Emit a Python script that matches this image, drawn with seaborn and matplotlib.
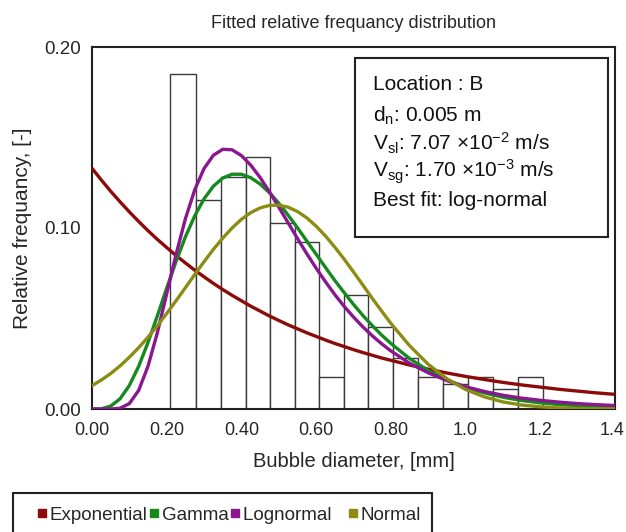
import numpy as np
import pandas as pd
import matplotlib
matplotlib.use("Agg")
import matplotlib.pyplot as plt
import matplotlib.transforms as mtransforms
import seaborn as sns
from matplotlib.patches import Rectangle
from matplotlib.lines import Line2D

# ---------------- data ----------------
bin_edges = [0.209, 0.279, 0.345, 0.413, 0.477, 0.543, 0.608, 0.675,
             0.740, 0.806, 0.873, 0.940, 1.007, 1.074, 1.141, 1.207]
bar_heights = [0.185, 0.1155, 0.128, 0.139, 0.103, 0.0924, 0.0175, 0.063,
               0.0455, 0.028, 0.0175, 0.014, 0.0175, 0.011, 0.0175]

diam = [0.000, 0.025, 0.050, 0.075, 0.100, 0.125, 0.150, 0.175, 0.200, 0.225,
        0.250, 0.275, 0.300, 0.325, 0.350, 0.375, 0.400, 0.425, 0.450, 0.475,
        0.500, 0.525, 0.550, 0.575, 0.600, 0.625, 0.650, 0.675, 0.700, 0.725,
        0.750, 0.775, 0.800, 0.85, 0.90, 0.95, 1.00, 1.05, 1.10, 1.15,
        1.20, 1.25, 1.30, 1.35, 1.40]
exponential = [0.1330, 0.1265, 0.1203, 0.1145, 0.1089, 0.1036, 0.0985, 0.0937, 0.0892, 0.0848,
               0.0807, 0.0767, 0.0730, 0.0694, 0.0660, 0.0628, 0.0598, 0.0568, 0.0541, 0.0514,
               0.0489, 0.0465, 0.0443, 0.0421, 0.0401, 0.0381, 0.0362, 0.0345, 0.0328, 0.0312,
               0.0297, 0.0282, 0.0269, 0.0243, 0.0220, 0.0199, 0.0180, 0.0163, 0.0147, 0.0133,
               0.0121, 0.0109, 0.0099, 0.0089, 0.0081]
gamma = [0.0, 0.0001, 0.0016, 0.0056, 0.0130, 0.0236, 0.0368, 0.0515, 0.0668, 0.0815,
         0.0951, 0.1067, 0.1161, 0.1231, 0.1276, 0.1297, 0.1297, 0.1278, 0.1243, 0.1195,
         0.1137, 0.1071, 0.1001, 0.0928, 0.0855, 0.0782, 0.0710, 0.0643, 0.0578, 0.0517,
         0.0461, 0.0409, 0.0362, 0.0279, 0.0213, 0.0161, 0.0120, 0.0089, 0.0065, 0.0047,
         0.0034, 0.0025, 0.0018, 0.0012, 0.0009]
lognormal = [0.0, 0.0, 0.0000, 0.0004, 0.0030, 0.0103, 0.0237, 0.0422, 0.0637, 0.0854,
             0.1051, 0.1211, 0.1329, 0.1402, 0.1435, 0.1432, 0.1400, 0.1347, 0.1279, 0.1200,
             0.1115, 0.1029, 0.0942, 0.0858, 0.0778, 0.0703, 0.0632, 0.0567, 0.0508, 0.0454,
             0.0405, 0.0361, 0.0321, 0.0253, 0.0200, 0.0157, 0.0123, 0.0097, 0.0076, 0.0060,
             0.0048, 0.0038, 0.0030, 0.0024, 0.0019]
normal = [0.0129, 0.0160, 0.0196, 0.0238, 0.0286, 0.0339, 0.0397, 0.0460, 0.0528, 0.0598,
          0.0670, 0.0743, 0.0814, 0.0882, 0.0944, 0.1000, 0.1048, 0.1085, 0.1111, 0.1125,
          0.1126, 0.1115, 0.1091, 0.1056, 0.1010, 0.0956, 0.0894, 0.0828, 0.0757, 0.0685,
          0.0612, 0.0542, 0.0473, 0.0350, 0.0247, 0.0167, 0.0108, 0.0067, 0.0039, 0.0022,
          0.0012, 0.0006, 0.0003, 0.0001, 0.0001]

dist_names = ["Exponential", "Gamma", "Lognormal", "Normal"]
legend_labels = ["Exponential", "Gamma", "Lognormal\u00a0\u00a0\u00a0", "Normal"]
dist_colors = ["#8c0a0a", "#14891e", "#8a1690", "#8c8c14"]

x_ticks = [0.0, 0.2, 0.4, 0.6, 0.8, 1.0, 1.2, 1.4]
x_ticklabels = ["0.00", "0.20", "0.40", "0.60", "0.80", "1.0", "1.2", "1.4"]
y_ticks = [0.0, 0.05, 0.10, 0.15, 0.20]
y_ticklabels = ["0.00", "", "0.10", "", "0.20"]

info_lines = ["Location : B",
              r"d$_{n}$: 0.005 m",
              r"V$_{sl}$: 7.07 ×10$^{-2}$ m/s",
              r"V$_{sg}$: 1.70 ×10$^{-3}$ m/s",
              "Best fit: log-normal"]

# ---------------- style ----------------
sns.set_style("white")
plt.rcParams["font.family"] = ["Liberation Sans", "DejaVu Sans"]
plt.rcParams["mathtext.default"] = "regular"

W, H = 626, 532
fig = plt.figure(figsize=(W / 100, H / 100), dpi=100)
L, R, T, B = 92, 615, 47, 409
ax = fig.add_axes([L / W, 1 - B / H, (R - L) / W, (B - T) / H])

# histogram bars
centers = [(bin_edges[i] + bin_edges[i + 1]) / 2 for i in range(len(bar_heights))]
sns.histplot(x=centers, weights=bar_heights, bins=bin_edges, stat="count",
             color="white", edgecolor="#3a3a3a", linewidth=1.0, alpha=1.0,
             ax=ax, zorder=1)

# fitted curves
frames = []
for name, vals in zip(dist_names, [exponential, gamma, lognormal, normal]):
    frames.append(pd.DataFrame({"d": diam, "f": vals, "dist": name}))
df = pd.concat(frames, ignore_index=True)
sns.lineplot(data=df, x="d", y="f", hue="dist", palette=dict(zip(dist_names, dist_colors)),
             linewidth=2.4, legend=False, ax=ax, estimator=None, sort=False, zorder=3)

ax.set_xlim(0, 1.4)
ax.set_ylim(0, 0.20)
ax.set_xticks(x_ticks)
ax.set_xticklabels(x_ticklabels, fontsize=13)
ax.set_yticks(y_ticks)
ax.set_yticklabels(y_ticklabels, fontsize=13.5)
ax.tick_params(axis="x", direction="in", length=8, width=1.2, pad=9.5, color="#333333")
ax.tick_params(axis="y", direction="in", length=11, width=1.2, pad=8, color="#333333")
# nudge the last x label so it stays inside the canvas
last = ax.get_xticklabels()[-1]
last.set_transform(last.get_transform() +
                   mtransforms.ScaledTranslation(-3 / 100, 0, fig.dpi_scale_trans))
for sp in ax.spines.values():
    sp.set_visible(True)
    sp.set_linewidth(1.5)
    sp.set_color("#222222")

ax.set_xlabel("Bubble diameter, [mm]", fontsize=14.5, labelpad=9)
ax.set_ylabel("Relative frequancy, [-]", fontsize=15, labelpad=9)
ax.set_title("Fitted relative frequancy distribution", fontsize=13, pad=13.5)

# info box
bx0, bx1 = (355 - L) / (R - L), (608 - L) / (R - L)
by0, by1 = (B - 237) / (B - T), (B - 58) / (B - T)
ax.add_patch(Rectangle((bx0, by0), bx1 - bx0, by1 - by0, transform=ax.transAxes,
                       facecolor="white", edgecolor="#222222", linewidth=1.5, zorder=5))
baselines = [89.5, 121.5, 150, 178, 206.5]
for txt, bl in zip(info_lines, baselines):
    ax.text((373 - L) / (R - L), (B - bl) / (B - T), txt, transform=ax.transAxes,
            fontsize=15, va="baseline", ha="left", zorder=6, color="#111111")

# legend below, with its own frame box
fig.add_artist(Rectangle((13 / W, 1 - 545 / H), (432 - 13) / W, (545 - 493) / H,
                         transform=fig.transFigure, facecolor="none",
                         edgecolor="#222222", linewidth=1.5))
handles = [Line2D([], [], marker="s", linestyle="none", markersize=5.2,
                  markerfacecolor=c, markeredgecolor=c) for c in dist_colors]
leg = fig.legend(handles, legend_labels, loc="center left", bbox_to_anchor=(37.5 / W, 1 - 515 / H),
                 ncol=4, fontsize=13.5, frameon=False, handlelength=0.45,
                 handletextpad=0.2, columnspacing=0.1, borderpad=0, borderaxespad=0)

fig.savefig("out.png", dpi=100)
